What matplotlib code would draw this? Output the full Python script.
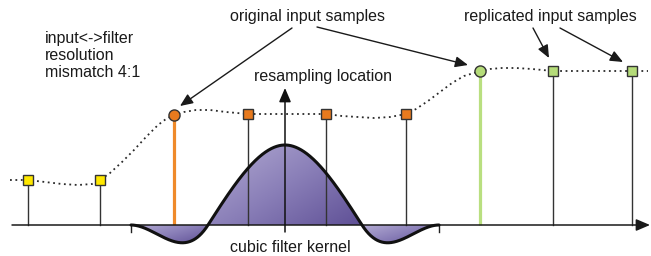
import numpy as np
import matplotlib
matplotlib.use("Agg")
import matplotlib.pyplot as plt
from matplotlib.patches import FancyArrowPatch, Polygon
from matplotlib.colors import LinearSegmentedColormap

plt.rcParams["font.family"] = ["Liberation Sans", "DejaVu Sans"]

# canvas is in pixel-like units: x to the right, y = height above the baseline
baseline_y = 225

# input samples (x position, height above baseline)
sample_x = [28, 100, 174, 248, 326, 406, 480, 553, 632]
sample_h = [45, 45, 110, 111, 111, 111, 154, 154, 154]
sample_kind = ["rep", "rep", "orig", "in", "in", "in", "orig", "rep", "rep"]
sample_group = ["yellow", "yellow", "orange", "orange", "orange", "orange", "green", "green", "green"]

# dotted signal curve
curve_x = [10, 28, 45, 62, 78, 92, 100, 110, 122, 134, 146, 158, 166, 174, 184, 196, 210, 226, 248,
           270, 290, 310, 326, 342, 358, 374, 390, 406, 416, 428, 440, 452, 464, 474, 480, 490,
           502, 516, 532, 553, 580, 610, 632, 648]
curve_h = [45, 45, 43, 41, 40, 41, 45, 52, 63, 75, 88, 100, 106, 110, 113, 115, 115, 113, 111,
           111, 111, 111, 111, 109, 108, 107, 108, 111, 116, 124, 133, 142, 149, 152, 154, 156,
           157, 157, 156, 154, 154, 154, 154, 154]

# cubic filter kernel
kernel_center = 285
kernel_width = 77        # distance to first zero crossing
kernel_peak = 80
kernel_a = -1.5

colors = {"yellow": "#ffe800", "orange": "#e87a1e", "green": "#b5dc79"}
stem_colors = {"orange": "#ef8a2a", "green": "#b9df80"}

fig = plt.figure(figsize=(6.51, 2.56), dpi=100)
ax = fig.add_axes([0, 0, 1, 1])
ax.axis("off")


def cubic(t, a):
    t = np.abs(t)
    out = np.zeros_like(t)
    m1 = t <= 1
    m2 = (t > 1) & (t < 2)
    out[m1] = (a + 2) * t[m1] ** 3 - (a + 3) * t[m1] ** 2 + 1
    out[m2] = a * t[m2] ** 3 - 5 * a * t[m2] ** 2 + 8 * a * t[m2] - 4 * a
    return out


cmap = LinearSegmentedColormap.from_list("kern", ["#b3abd3", "#8a7fb8", "#5f5096"])


def gradient_fill(xs, ys):
    poly = Polygon(np.column_stack([xs, ys]), closed=True, facecolor="none", edgecolor="none")
    ax.add_patch(poly)
    x0, x1 = xs.min(), xs.max()
    y0, y1 = ys.min(), ys.max()
    gx, gy = np.meshgrid(np.linspace(0, 1, 200), np.linspace(0, 1, 200))
    grad = 0.55 * gx + 0.45 * (1 - gy)
    im = ax.imshow(grad, extent=[x0, x1, y1, y0], origin="upper", cmap=cmap,
                   vmin=0, vmax=1, aspect="auto", zorder=1, interpolation="bilinear")
    im.set_clip_path(poly)


# kernel lobes
t = np.linspace(-2, 2, 801)
k = cubic(t, kernel_a) * kernel_peak
kx = kernel_center + t * kernel_width
for lo, hi in [(-2, -1), (-1, 1), (1, 2)]:
    m = (t >= lo) & (t <= hi)
    xs = np.concatenate([kx[m], [kx[m][-1], kx[m][0]]])
    ys = np.concatenate([k[m], [0, 0]])
    gradient_fill(xs, ys)
ax.plot(kx, k, color="#111111", lw=2.2, zorder=4, solid_capstyle="round")
for tx in [-2, 2]:
    xx = kernel_center + tx * kernel_width
    ax.plot([xx, xx], [0, -7], color="#222222", lw=1.0, zorder=3)

# baseline with arrow
ax.add_patch(FancyArrowPatch((12, 0), (650, 0), arrowstyle="-|>,head_length=0.7,head_width=0.3",
                             mutation_scale=12, color="#1a1a1a", lw=1.1, shrinkA=0, shrinkB=0, zorder=3))

# stems
for x, h, g, kind in zip(sample_x, sample_h, sample_group, sample_kind):
    if kind == "orig":
        ax.plot([x, x], [0, h], color=stem_colors[g], lw=2.3, zorder=2, solid_capstyle="butt")
    else:
        ax.plot([x, x], [0, h], color="#333333", lw=1.0, zorder=2)

# dotted curve
ax.plot(curve_x, curve_h, color="#2a2a2a", lw=1.3, ls=(0, (1, 2.0)), zorder=5)

# markers
for x, h, g, kind in zip(sample_x, sample_h, sample_group, sample_kind):
    if kind == "orig":
        ax.plot(x, h, "o", ms=8, mfc=colors[g], mec="#333333", mew=1.0, zorder=6)
    else:
        ax.plot(x, h, "s", ms=6.8, mfc=colors[g], mec="#333333", mew=1.0, zorder=6)

# resampling arrow
ax.add_patch(FancyArrowPatch((kernel_center, -7), (kernel_center, 137),
                             arrowstyle="-|>,head_length=0.7,head_width=0.3",
                             mutation_scale=12, color="#111111", lw=1.1, shrinkA=0, shrinkB=0, zorder=5))

# pointer arrows
arrows = [((292, 197), (180, 119)), ((317, 198), (468, 160)),
          ((533, 197), (549, 167)), ((560, 197), (623, 163))]
for (a, b) in arrows:
    ax.add_patch(FancyArrowPatch(a, b, arrowstyle="-|>,head_length=0.7,head_width=0.3",
                                 mutation_scale=11, color="#1a1a1a", lw=1.0,
                                 shrinkA=0, shrinkB=0, zorder=5))

fs = 11.5
ax.text(308, baseline_y - 17, "original input samples", ha="center", va="center", fontsize=fs, color="#1a1a1a")
ax.text(550, baseline_y - 17, "replicated input samples", ha="center", va="center", fontsize=fs, color="#1a1a1a")
ax.text(323, baseline_y - 77, "resampling location", ha="center", va="center", fontsize=fs, color="#1a1a1a")
ax.text(290, baseline_y - 247, "cubic filter kernel", ha="center", va="center", fontsize=fs, color="#1a1a1a")
ax.text(45, baseline_y - 31, "input<->filter\nresolution\nmismatch 4:1", ha="left", va="top",
        fontsize=fs, color="#1a1a1a", linespacing=1.15)

ax.set_xlim(0, 651)
ax.set_ylim(baseline_y - 256, baseline_y)

fig.savefig("out.png", dpi=100)
